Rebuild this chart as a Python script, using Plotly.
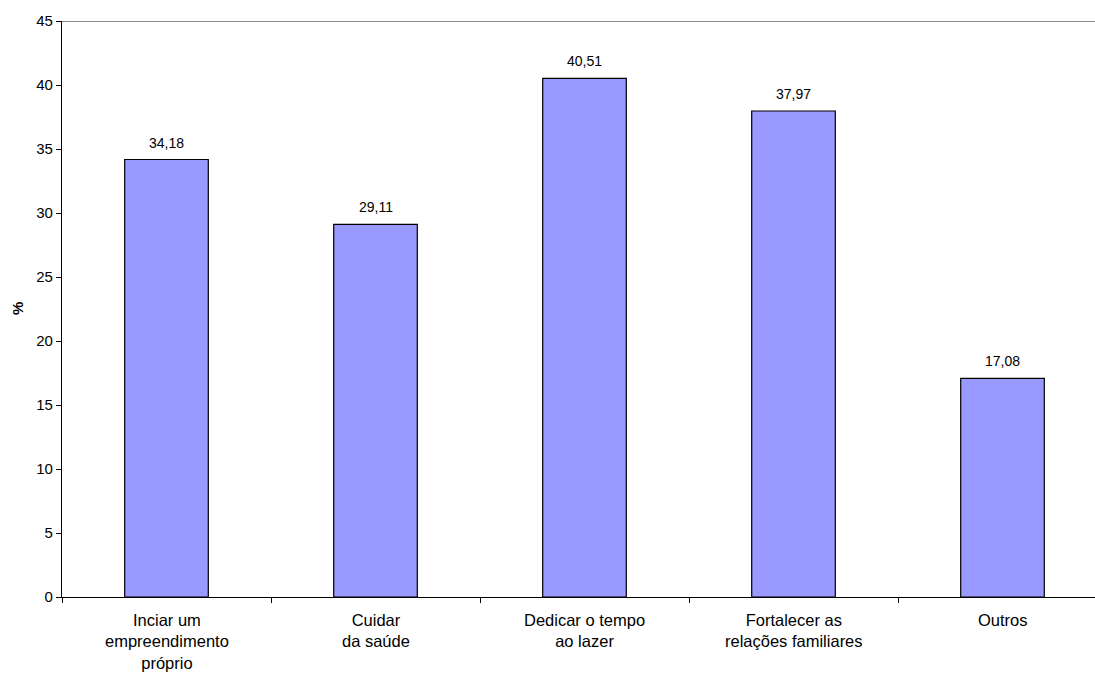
import plotly.graph_objects as go

categories = [
    "Inciar um<br>empreendimento<br>próprio",
    "Cuidar<br>da saúde",
    "Dedicar o tempo<br>ao lazer",
    "Fortalecer as<br>relações familiares",
    "Outros",
]
values = [34.18, 29.11, 40.51, 37.97, 17.08]
value_labels = ["34,18", "29,11", "40,51", "37,97", "17,08"]
y_ticks = [0, 5, 10, 15, 20, 25, 30, 35, 40, 45]

FONT = "Liberation Sans, Arial, sans-serif"
positions = list(range(len(categories)))

fig = go.Figure(
    go.Bar(
        x=positions,
        y=values,
        width=0.4,
        marker=dict(color="#9999FF", line=dict(color="#000000", width=1.2)),
        hoverinfo="skip",
    )
)

# value labels above each bar
for xi, v, lab in zip(positions, values, value_labels):
    fig.add_annotation(
        x=xi, y=v, xref="x", yref="y", text=lab, showarrow=False,
        yanchor="bottom", yshift=7, font=dict(family=FONT, size=14, color="#000000"),
    )

# category labels below the axis
for xi, cat in zip(positions, categories):
    fig.add_annotation(
        x=xi, y=0, xref="x", yref="y", text=cat, showarrow=False,
        yanchor="top", yshift=-12, align="center",
        font=dict(family=FONT, size=16.5, color="#000000"),
    )

# y-axis title
fig.add_annotation(
    x=0, y=0.5, xref="paper", yref="paper", text="<b>%</b>", showarrow=False,
    textangle=-90, xanchor="center", yanchor="middle", xshift=-45,
    font=dict(family=FONT, size=15, color="#000000"),
)

# grey top border of the plot area
fig.add_shape(
    type="line", xref="paper", yref="y", x0=0, x1=1, y0=45, y1=45,
    line=dict(color="#8c8c8c", width=2),
)

fig.update_layout(
    width=1095,
    height=673,
    margin=dict(l=62, r=0, t=21, b=76),
    paper_bgcolor="#ffffff",
    plot_bgcolor="#ffffff",
    showlegend=False,
    font=dict(family=FONT, color="#000000"),
)

fig.update_xaxes(
    range=[-0.5, -0.5 + 1033 / 209],
    tickmode="array",
    tickvals=[-0.5, 0.5, 1.5, 2.5, 3.5],
    ticktext=["", "", "", "", ""],
    ticks="outside",
    ticklen=5,
    tickcolor="#000000",
    showline=True,
    linecolor="#000000",
    linewidth=1.2,
    showgrid=False,
    zeroline=False,
)

fig.update_yaxes(
    range=[0, 45],
    tickmode="array",
    tickvals=y_ticks,
    ticks="outside",
    ticklen=5,
    tickcolor="#000000",
    tickfont=dict(family=FONT, size=15, color="#000000"),
    showline=True,
    linecolor="#000000",
    linewidth=1.2,
    showgrid=False,
    zeroline=False,
)

fig.write_html("out.html")
